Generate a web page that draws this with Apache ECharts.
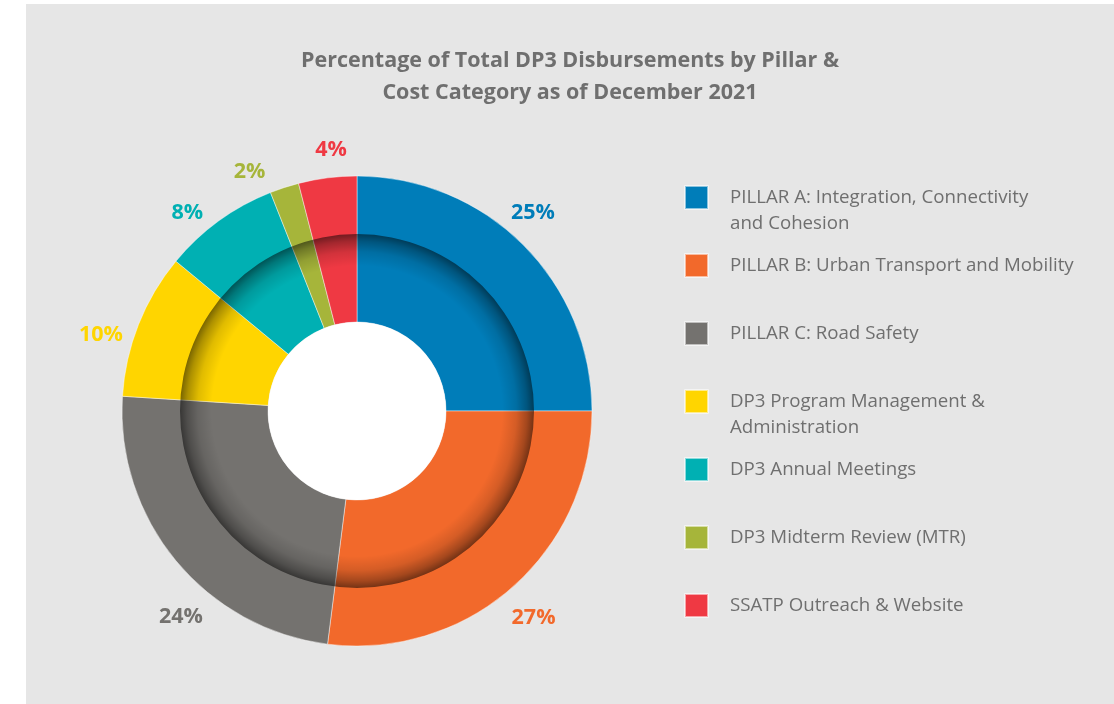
<!DOCTYPE html>
<html>
<head>
<meta charset="utf-8">
<script src="https://cdn.jsdelivr.net/npm/echarts@6/dist/echarts.min.js"></script>
<style>
  html, body { margin: 0; padding: 0; background: #ffffff; }
  #chart { width: 1114px; height: 704px; }
</style>
</head>
<body>
<div id="chart"></div>
<script>
// Cost categories (legend order = slice order, clockwise from 12 o'clock)
const categories = [
  'PILLAR A: Integration, Connectivity\nand Cohesion',
  'PILLAR B: Urban Transport and Mobility',
  'PILLAR C: Road Safety',
  'DP3 Program Management &\nAdministration',
  'DP3 Annual Meetings',
  'DP3 Midterm Review (MTR)',
  'SSATP Outreach & Website'
];
// Share of total disbursements, percent
const shares = [25, 27, 24, 10, 8, 2, 4];
const sliceColors = ['#007db9', '#f2692b', '#74726f', '#ffd500', '#00b0b3', '#a6b53a', '#ef3943'];

const titleLines = [
  'Percentage of Total DP3 Disbursements by Pillar &',
  'Cost Category as of December 2021'
];

// small hand nudges for the percentage labels [dx, dy]
const labelNudges = [[-15, -7], [-2, 4], [32, 34], [-5, 23], [-11, 20], [-24, 18], [8, 7]];

const CENTER = [357, 411];
const textGray = '#6f6f6f';

const mainData = categories.map((name, i) => ({
  name: name,
  value: shares[i],
  itemStyle: { color: sliceColors[i] }
}));

const labelData = categories.map((name, i) => ({
  name: name,
  value: shares[i],
  label: { color: sliceColors[i], offset: labelNudges[i] }
}));

const chart = echarts.init(document.getElementById('chart'), null, { renderer: 'canvas' });

chart.setOption({
  backgroundColor: '#ffffff',
  animation: false,
  graphic: [{
    type: 'rect',
    z: -10,
    silent: true,
    shape: { x: 26, y: 4, width: 1088, height: 700 },
    style: { fill: '#e6e6e6' }
  }],
  title: {
    text: titleLines.join('\n'),
    left: 570,
    top: 45,
    padding: 0,
    textAlign: 'center',
    textStyle: {
      fontFamily: 'Open Sans',
      fontWeight: 'bold',
      fontSize: 21.5,
      lineHeight: 32,
      color: textGray
    }
  },
  legend: {
    orient: 'vertical',
    left: 684,
    top: 155.5,
    padding: 0,
    icon: 'rect',
    itemWidth: 23,
    itemHeight: 23,
    itemGap: -16,
    selectedMode: false,
    data: categories,
    // every entry is three lines tall with its first text line beside the swatch
    formatter: name => '\n' + name + (name.indexOf('\n') >= 0 ? '' : '\n'),
    textStyle: {
      fontFamily: 'Open Sans',
      fontSize: 18.7,
      lineHeight: 26,
      padding: [0, 0, 6, 17],
      color: textGray
    }
  },
  series: [
    {
      name: 'Disbursements',
      type: 'pie',
      z: 2,
      center: CENTER,
      radius: [89, 235],
      startAngle: 90,
      clockwise: true,
      silent: true,
      label: { show: false },
      labelLine: { show: false },
      itemStyle: { borderColor: 'rgba(255,255,255,0.55)', borderWidth: 0.8 },
      data: mainData
    },
    {
      // inset shading of the inner ring
      name: 'shade',
      type: 'pie',
      z: 3,
      center: CENTER,
      radius: [89, 177],
      silent: true,
      label: { show: false },
      labelLine: { show: false },
      itemStyle: {
        color: new echarts.graphic.RadialGradient(0.5, 0.5, 0.5, [
          { offset: 0, color: 'rgba(0,0,0,0)' },
          { offset: 0.82, color: 'rgba(0,0,0,0)' },
          { offset: 0.9, color: 'rgba(0,0,0,0.12)' },
          { offset: 0.96, color: 'rgba(0,0,0,0.32)' },
          { offset: 1, color: 'rgba(0,0,0,0.52)' }
        ])
      },
      data: [{ value: 1, name: '' }]
    },
    {
      // white hole
      name: 'hole',
      type: 'pie',
      z: 4,
      center: CENTER,
      radius: [0, 89],
      silent: true,
      label: { show: false },
      labelLine: { show: false },
      itemStyle: { color: '#ffffff' },
      data: [{ value: 1, name: '' }]
    },
    {
      // percentage labels around the ring
      name: 'labels',
      type: 'pie',
      z: 5,
      center: CENTER,
      radius: [252, 282],
      startAngle: 90,
      silent: true,
      itemStyle: { color: 'rgba(0,0,0,0)' },
      labelLine: { show: false },
      label: {
        show: true,
        position: 'inside',
        formatter: '{c}%',
        fontFamily: 'Open Sans',
        fontWeight: 'bold',
        fontSize: 21.5
      },
      data: labelData
    }
  ]
});
</script>
</body>
</html>
